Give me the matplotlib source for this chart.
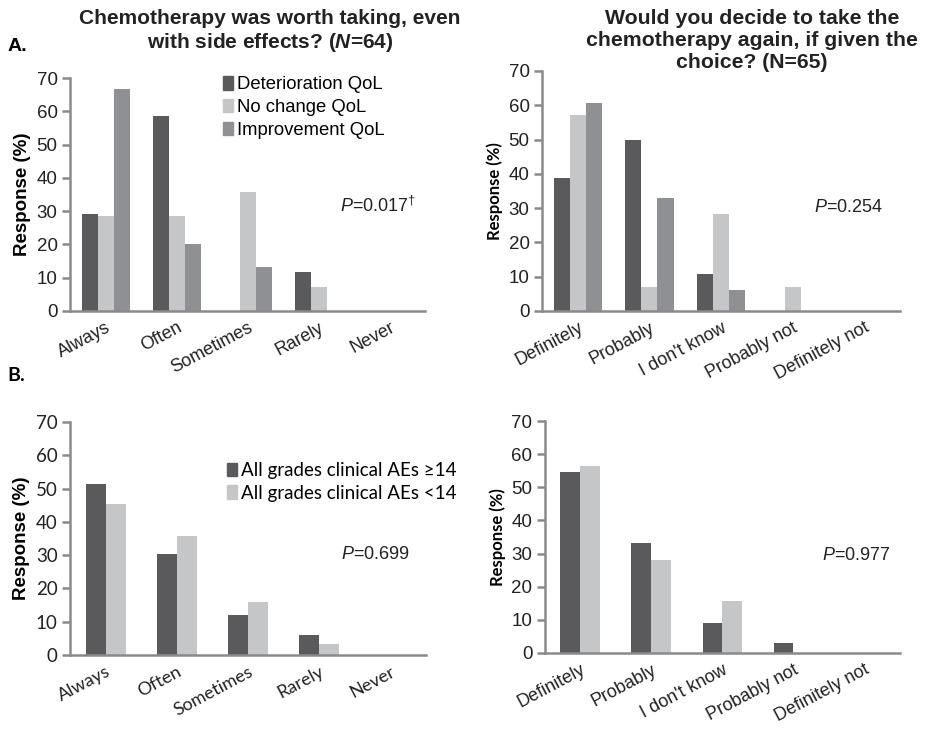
import numpy as np
import matplotlib
matplotlib.use("Agg")
import matplotlib.pyplot as plt

plt.rcParams['font.family'] = ['Liberation Sans', 'DejaVu Sans']
plt.rcParams['mathtext.fontset'] = 'custom'
plt.rcParams['mathtext.rm'] = 'Liberation Sans'
plt.rcParams['mathtext.it'] = 'Liberation Sans:italic'
plt.rcParams['mathtext.bf'] = 'Liberation Sans:bold'
plt.rcParams['mathtext.bfit'] = 'Liberation Sans:italic:bold'

# data
worth_cats = ['Always', 'Often', 'Sometimes', 'Rarely', 'Never']
again_cats = ['Definitely', 'Probably', "I don't know", 'Probably not', 'Definitely not']

qol_labels = ['Deterioration QoL', 'No change QoL', 'Improvement QoL']
worth_det = [29.2, 58.6, 0, 11.7, 0]
worth_nc = [28.6, 28.6, 35.7, 7.1, 0]
worth_imp = [66.7, 20.0, 13.3, 0, 0]
again_det = [38.9, 50.0, 10.8, 0, 0]
again_nc = [57.1, 7.1, 28.3, 7.1, 0]
again_imp = [60.6, 33.0, 6.0, 0, 0]

ae_labels = ['All grades clinical AEs \u226514', 'All grades clinical AEs <14']
worth_ae_hi = [51.5, 30.3, 12.1, 6.1, 0]
worth_ae_lo = [45.5, 35.7, 15.9, 3.3, 0]
again_ae_hi = [54.5, 33.3, 9.1, 3.0, 0]
again_ae_lo = [56.3, 28.1, 15.6, 0, 0]

dark, light, mid = '#5a5a5c', '#c5c6c8', '#8f9093'
axis_gray = '#8a8a8a'

fig = plt.figure(figsize=(9.25, 7.34), dpi=100)


def make_ax(rect, cats, series, colors, width, tick_font, ylab_size, ylab_font):
    ax = fig.add_axes(rect)
    x = np.arange(len(cats))
    n = len(series)
    for i, (vals, c) in enumerate(zip(series, colors)):
        ax.bar(x + (i - (n - 1) / 2) * width, vals, width, color=c, label=None)
    ax.set_xlim(-0.5, len(cats) - 0.5)
    ax.set_ylim(0, 70)
    ax.set_yticks(range(0, 71, 10))
    for s in ['top', 'right']:
        ax.spines[s].set_visible(False)
    for s in ['left', 'bottom']:
        ax.spines[s].set_color(axis_gray)
        ax.spines[s].set_linewidth(1.8)
    ax.tick_params(axis='y', length=6, width=1.8, color=axis_gray, labelsize=13.5,
                   pad=3, labelcolor='#222222')
    ax.tick_params(axis='x', length=0, labelsize=13, pad=6, labelcolor='#222222')
    ax.set_xticks(x)
    ax.set_xticklabels(cats, rotation=28, ha='right', rotation_mode='anchor',
                       family=tick_font)
    for lab in ax.get_yticklabels():
        lab.set_family(tick_font)
    ax.set_ylabel('Response (%)', fontsize=ylab_size, fontweight='bold',
                  family=ylab_font, labelpad=4)
    return ax


# A. worth taking
ax1 = make_ax([0.0757, 0.5763, 0.384, 0.3174], worth_cats,
              [worth_det, worth_nc, worth_imp], [dark, light, mid], 0.225,
              ['Liberation Sans'], 13.5, ['Liberation Sans'])
h = [plt.Rectangle((0, 0), 1, 1, color=c) for c in [dark, light, mid]]
ax1.legend(h, qol_labels, loc='upper left', bbox_to_anchor=(0.41, 1.04),
           frameon=False, fontsize=13.3, handlelength=0.55, handleheight=0.75,
           handletextpad=0.2, labelspacing=0.3, borderaxespad=0)
ax1.text(0.76, 0.45, r'$\it{P}$=0.017$^{\dagger}$', transform=ax1.transAxes,
         fontsize=13, ha='left', va='center', color='#222222')

# A. take again
ax2 = make_ax([0.586, 0.5763, 0.387, 0.327], again_cats,
              [again_det, again_nc, again_imp], [dark, light, mid], 0.225,
              ['Liberation Sans'], 12, ['Lato', 'DejaVu Sans'])
ax2.text(0.76, 0.43, r'$\it{P}$=0.254', transform=ax2.transAxes,
         fontsize=13, ha='left', va='center', color='#222222')

# B. worth taking
ax3 = make_ax([0.0757, 0.1076, 0.385, 0.3175], worth_cats,
              [worth_ae_hi, worth_ae_lo], [dark, light], 0.28,
              ['Lato', 'DejaVu Sans'], 13.5, ['Liberation Sans'])
h2 = [plt.Rectangle((0, 0), 1, 1, color=c) for c in [dark, light]]
ax3.legend(h2, ae_labels, loc='upper left', bbox_to_anchor=(0.42, 0.86),
           frameon=False, handlelength=0.55, handleheight=0.75,
           handletextpad=0.2, labelspacing=0.3, borderaxespad=0,
           prop={'family': ['Lato', 'DejaVu Sans'], 'size': 13.5})
ax3.text(0.76, 0.43, r'$\it{P}$=0.699', transform=ax3.transAxes,
         fontsize=13, ha='left', va='center', color='#222222')

# B. take again
ax4 = make_ax([0.589, 0.1104, 0.384, 0.316], again_cats,
              [again_ae_hi, again_ae_lo], [dark, light], 0.28,
              ['Liberation Sans'], 12, ['Lato', 'DejaVu Sans'])
ax4.text(0.78, 0.42, r'$\it{P}$=0.977', transform=ax4.transAxes,
         fontsize=13, ha='left', va='center', color='#222222')

# titles and panel letters
fig.text(0.292, 0.988, 'Chemotherapy was worth taking, even\n'
         r'with side effects? ($\mathbfit{N}$=64)', ha='center', va='top',
         fontsize=15, fontweight='bold', linespacing=1.2, color='#222222')
fig.text(0.813, 0.988, 'Would you decide to take the\n'
         'chemotherapy again, if given the\nchoice? (N=65)', ha='center',
         va='top', fontsize=15.3, fontweight='bold', linespacing=1.2,
         color='#222222')
fig.text(0.008, 0.936, 'A.', fontsize=14, fontweight='bold', ha='left', va='center')
fig.text(0.008, 0.488, 'B.', fontsize=14, fontweight='bold', ha='left', va='center',
         family=['Lato', 'DejaVu Sans'])

fig.savefig('out.png', dpi=100)
